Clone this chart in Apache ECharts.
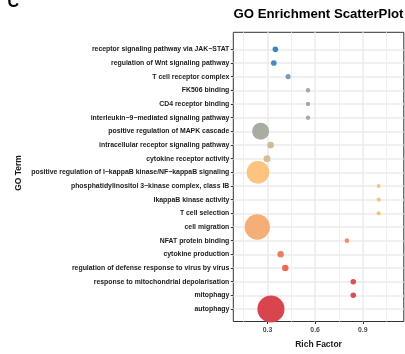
<!DOCTYPE html>
<html>
<head>
<meta charset="utf-8">
<script src="https://cdn.jsdelivr.net/npm/echarts@6/dist/echarts.min.js"></script>
<style>
  html, body { margin: 0; padding: 0; background: #fff; }
  #chart { width: 405px; height: 354px; }
</style>
</head>
<body>
<div id="chart"></div>
<script>
// GO terms, top to bottom
const terms = [
  'receptor signaling pathway via JAK\u2212STAT',
  'regulation of Wnt signaling pathway',
  'T cell receptor complex',
  'FK506 binding',
  'CD4 receptor binding',
  'interleukin\u22129\u2212mediated signaling pathway',
  'positive regulation of MAPK cascade',
  'intracellular receptor signaling pathway',
  'cytokine receptor activity',
  'positive regulation of I\u2212kappaB kinase/NF\u2212kappaB signaling',
  'phosphatidylinositol 3\u2212kinase complex, class IB',
  'IkappaB kinase activity',
  'T cell selection',
  'cell migration',
  'NFAT protein binding',
  'cytokine production',
  'regulation of defense response to virus by virus',
  'response to mitochondrial depolarisation',
  'mitophagy',
  'autophagy'
];
const richFactor = [0.35, 0.34, 0.43, 0.555, 0.555, 0.555, 0.257, 0.32, 0.297, 0.24,
                    1.0, 1.0, 1.0, 0.236, 0.80, 0.383, 0.412, 0.84, 0.84, 0.322];
const geneCount = [2, 2, 1.6, 1.2, 1.2, 1.2, 18, 2.8, 3, 32,
                   1.1, 1.1, 1.1, 40, 1.4, 2.6, 2.6, 1.9, 1.9, 46];
const pAdjust = [0.048, 0.047, 0.040, 0.035, 0.035, 0.035, 0.034, 0.027, 0.026, 0.020,
                 0.0205, 0.0205, 0.0205, 0.017, 0.013, 0.010, 0.008, 0.005, 0.005, 0.002];
const xMajorTicks = [0.3, 0.6, 0.9];
const xMinorTicks = [0.15, 0.45, 0.75, 1.05];

const FONT = 'Liberation Sans, Arial, Helvetica, sans-serif';
const xMin = 0.085, xMax = 1.158;
const panel = { left: 233.3, top: 32.3, width: 170.5, height: 292 };
const rows = { top: 49.3, height: 259.7 };

const chart = echarts.init(document.getElementById('chart'), null, { renderer: 'canvas' });

const points = terms.map((t, i) => [richFactor[i], i, geneCount[i], pAdjust[i], t]);

chart.setOption({
  animation: false,
  backgroundColor: '#ffffff',
  grid: [
    { left: panel.left, top: panel.top, width: panel.width, height: panel.height,
      show: true, borderColor: '#333333', borderWidth: 1, backgroundColor: 'transparent' },
    { left: panel.left, top: rows.top, width: panel.width, height: rows.height }
  ],
  xAxis: [
    {
      gridIndex: 0, type: 'value', min: xMin, max: xMax,
      axisLine: { show: false },
      axisTick: { show: true, customValues: xMajorTicks, length: 2.5,
                  lineStyle: { color: '#333333', width: 1 } },
      axisLabel: { customValues: xMajorTicks, fontSize: 6.9, fontWeight: 'bold',
                   fontFamily: FONT, color: '#4d4d4d', margin: 5,
                   formatter: v => v.toFixed(1) },
      splitLine: { show: true, lineStyle: { color: '#ebebeb', width: 1.5 } },
      name: 'Rich Factor', nameLocation: 'middle', nameGap: 18.5,
      nameTextStyle: { fontSize: 8.5, fontWeight: 'bold', fontFamily: FONT, color: '#1a1a1a' }
    },
    {
      gridIndex: 0, type: 'value', min: xMin, max: xMax,
      axisLine: { show: false },
      axisTick: { show: false, customValues: xMinorTicks },
      axisLabel: { show: false, customValues: xMinorTicks },
      splitLine: { show: true, lineStyle: { color: '#f0f0f0', width: 1 } }
    },
    {
      gridIndex: 1, type: 'value', min: xMin, max: xMax, show: false
    }
  ],
  yAxis: [
    { gridIndex: 0, type: 'value', min: 0, max: 1, show: false },
    {
      gridIndex: 1, type: 'value', min: 0, max: terms.length - 1, interval: 1, inverse: true,
      axisLine: { show: false },
      axisTick: { show: true, length: 2.5, lineStyle: { color: '#333333', width: 1 } },
      axisLabel: { fontSize: 6.9, fontWeight: 'bold', fontFamily: FONT, color: '#1a1a1a',
                   margin: 4, formatter: v => terms[v] || '' },
      splitLine: { show: true, lineStyle: { color: '#ebebeb', width: 1.5 } }
    }
  ],
  visualMap: {
    show: false, type: 'continuous', dimension: 3, min: 0, max: 0.05, seriesIndex: 0,
    inRange: { color: ['#d53e4f', '#dc5050', '#ea7f5f', '#f0a070', '#fdc47f', '#d9c193',
                       '#bcb79b', '#a2aaa1', '#7d9cb5', '#4a8cc0', '#3586c0'] }
  },
  series: [{
    type: 'scatter', xAxisIndex: 2, yAxisIndex: 1, clip: false,
    data: points,
    symbolSize: v => 4 * Math.sqrt(v[2]),
    itemStyle: { opacity: 1 }
  }],
  graphic: [
    { type: 'text', x: 7.5, y: 3,
      style: { text: 'C', font: 'bold 16px ' + FONT, fill: '#000', verticalAlign: 'middle' } },
    { type: 'text', x: 318.5, y: 14.3,
      style: { text: 'GO Enrichment ScatterPlot', font: 'bold 13.2px ' + FONT, fill: '#000',
               align: 'center', verticalAlign: 'middle' } },
    { type: 'text', x: 19, y: 173, rotation: Math.PI / 2,
      style: { text: 'GO Term', font: 'bold 8.5px ' + FONT, fill: '#1a1a1a',
               align: 'center', verticalAlign: 'middle' } }
  ]
});
</script>
</body>
</html>
